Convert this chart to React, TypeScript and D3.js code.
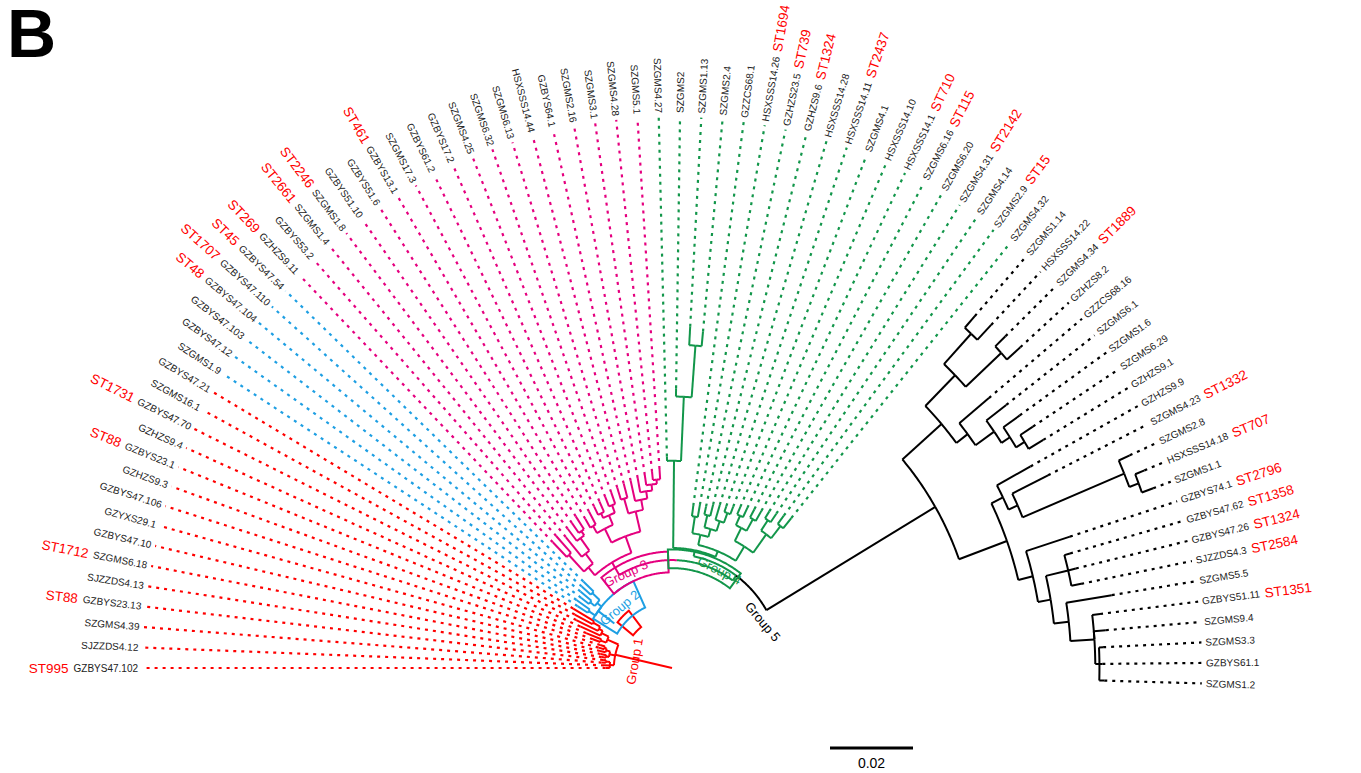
import React, { useMemo } from 'react';
import * as d3 from 'd3';

const WIDTH = 1361;
const HEIGHT = 773;
const FONT = '"Liberation Sans", Arial, Helvetica, sans-serif';

// ---------- data: leaves (clockwise order), groups, ST types ----------
const GROUP_NAMES = ['Group 1', 'Group 2', 'Group 3', 'Group 4', 'Group 5'];
const GROUP_COLORS = ['#FF0000', '#1E9FE3', '#E5007F', '#12964A', '#000000'];

const GROUP1_LEAVES = ['GZBYS47.102', 'SJZZDS4.12', 'SZGMS4.39', 'GZBYS23.13', 'SJZZDS4.13', 'SZGMS6.18', 'GZBYS47.10', 'GZYXS29.1', 'GZBYS47.106', 'GZHZS9.3', 'GZBYS23.1', 'GZHZS9.4', 'GZBYS47.70', 'SZGMS16.1', 'GZBYS47.21'];
const GROUP2_LEAVES = ['SZGMS1.9', 'GZBYS47.12', 'GZBYS47.103', 'GZBYS47.104', 'GZBYS47.110', 'GZBYS47.54'];
const GROUP3_LEAVES = ['GZHZS9.11', 'GZBYS53.2', 'SZGMS1.4', 'SZGMS1.8', 'GZBYS51.10', 'GZBYS51.6', 'GZBYS13.1', 'SZGMS17.3', 'GZBYS61.2', 'GZBYS17.2', 'SZGMS4.25', 'SZGMS6.32', 'SZGMS6.13', 'HSXSSS14.44', 'GZBYS64.1', 'SZGMS2.16', 'SZGMS3.1', 'SZGMS4.28', 'SZGMS5.1'];
const GROUP4_LEAVES = ['SZGMS4.27', 'SZGMS2', 'SZGMS1.13', 'SZGMS2.4', 'GZZCS68.1', 'HSXSSS14.26', 'GZHZS23.5', 'GZHZS9.6', 'HSXSSS14.28', 'HSXSSS14.11', 'SZGMS4.1', 'HSXSSS14.10', 'HSXSSS14.1', 'SZGMS6.16', 'SZGMS6.20', 'SZGMS4.31', 'SZGMS4.14', 'SZGMS2.9', 'SZGMS4.32'];
const GROUP5_LEAVES = ['SZGMS1.14', 'HSXSSS14.22', 'SZGMS4.34', 'GZHZS8.2', 'GZZCS68.16', 'SZGMS6.1', 'SZGMS1.6', 'SZGMS6.29', 'GZHZS9.1', 'GZHZS9.9', 'SZGMS4.23', 'SZGMS2.8', 'HSXSSS14.18', 'SZGMS1.1', 'GZBYS74.1', 'GZBYS47.62', 'GZBYS47.26', 'SJZZDS4.3', 'SZGMS5.5', 'GZBYS51.11', 'SZGMS9.4', 'SZGMS3.3', 'GZBYS61.1', 'SZGMS1.2'];
const GROUP_LEAVES = [GROUP1_LEAVES, GROUP2_LEAVES, GROUP3_LEAVES, GROUP4_LEAVES, GROUP5_LEAVES];

const ST_ISOLATES = ['GZBYS47.102', 'GZBYS23.13', 'SZGMS6.18', 'GZBYS23.1', 'GZBYS47.70', 'GZBYS47.104', 'GZBYS47.110', 'GZBYS47.54', 'GZHZS9.11', 'SZGMS1.4', 'SZGMS1.8', 'GZBYS13.1', 'HSXSSS14.26', 'GZHZS23.5', 'GZHZS9.6', 'HSXSSS14.11', 'HSXSSS14.1', 'SZGMS6.16', 'SZGMS4.31', 'SZGMS2.9', 'SZGMS4.34', 'SZGMS4.23', 'HSXSSS14.18', 'GZBYS74.1', 'GZBYS47.62', 'GZBYS47.26', 'SJZZDS4.3', 'GZBYS51.11'];
const ST_TYPES = ['ST995', 'ST88', 'ST1712', 'ST88', 'ST1731', 'ST48', 'ST1707', 'ST45', 'ST269', 'ST2661', 'ST2246', 'ST461', 'ST1694', 'ST739', 'ST1324', 'ST2437', 'ST710', 'ST115', 'ST2142', 'ST15', 'ST1889', 'ST1332', 'ST707', 'ST2796', 'ST1358', 'ST1324', 'ST2584', 'ST1351'];

// ---------- tree topology (Newick, branch lengths in 1e-3 substitutions/site) ----------
const NEWICK_G1 = '((GZBYS47.102:1.0,SJZZDS4.12:1.4,(SZGMS4.39:1.0,GZBYS23.13:0.7):1.0):1.0,((SJZZDS4.13:1.0,SZGMS6.18:1.4):0.7,(GZBYS47.10:1.4,(GZYXS29.1:1.4,GZBYS47.106:1.2):0.5):1.0):1.4,((GZHZS9.3:1.9,GZBYS23.1:3.9):1.4,(GZHZS9.4:5.3,(GZBYS47.70:5.8,(SZGMS16.1:4.8,GZBYS47.21:5.8):1.9):1.0):1.9):2.9)';
const NEWICK_G2 = '((SZGMS1.9:2.9,GZBYS47.12:3.9):1.9,((GZBYS47.103:2.4,GZBYS47.104:3.4):1.4,(GZBYS47.110:2.9,GZBYS47.54:3.4):2.4):1.4)';
const NEWICK_G3 = '(((GZHZS9.11:4.8,GZBYS53.2:5.3):5.3,(SZGMS1.4:6.0,(SZGMS1.8:3.6,(GZBYS51.10:2.9,GZBYS51.6:3.6):1.2):3.6):2.9):2.4,(((GZBYS13.1:2.4,SZGMS17.3:3.4):1.9,((GZBYS61.2:2.2,GZBYS17.2:2.7):1.2,(SZGMS4.25:2.4,SZGMS6.32:2.9):1.9):2.4):3.6,((SZGMS6.13:2.9,HSXSSS14.44:3.4):3.6,(GZBYS64.1:4.8,(SZGMS2.16:3.4,(SZGMS3.1:2.4,(SZGMS4.28:1.9,SZGMS5.1:2.4):1.0):1.4):1.7):2.4):4.8):4.1)';
const NEWICK_G4 = '((SZGMS4.27:1.0,(SZGMS2:1.9,(SZGMS1.13:4.3,SZGMS2.4:3.4):12.0):14.9):20.2,(((GZZCS68.1:2.4,HSXSSS14.26:2.9):3.9,((GZHZS23.5:1.9,GZHZS9.6:2.7):2.9,(HSXSSS14.28:3.6,(HSXSSS14.11:1.4,SZGMS4.1:1.9):2.4):2.4):1.9):2.4,(((HSXSSS14.10:1.9,HSXSSS14.1:2.4):2.4,(SZGMS6.16:2.2,SZGMS6.20:2.7):3.1):3.4,((SZGMS4.31:1.9,SZGMS4.14:2.4):2.9,(SZGMS2.9:2.4,SZGMS4.32:3.1):3.6):5.3):3.9):1.4)';
const NEWICK_G5 = '((((SZGMS1.14:3.6,HSXSSS14.22:4.8):9.6,(SZGMS4.34:3.4,GZHZS8.2:4.3):11.6):10.1,(GZZCS68.16:9.2,(SZGMS6.1:6.0,(SZGMS1.6:4.8,(SZGMS6.29:3.6,GZHZS9.1:4.1):2.4):2.4):5.5):3.4):12.5,((GZHZS9.9:9.2,(SZGMS4.23:9.6,(SZGMS2.8:2.9,(HSXSSS14.18:2.4,SZGMS1.1:2.9):2.4):26.5):2.4):3.1,(GZBYS74.1:11.1,((GZBYS47.62:1.4,GZBYS47.26:1.9,SJZZDS4.3:2.4):5.5,(SZGMS5.5:11.1,(GZBYS51.11:1.9,SZGMS9.4:2.9,(SZGMS3.3:1.0,GZBYS61.1:0.7,SZGMS1.2:1.2):1.0):5.8):3.6):3.1):3.6):12.3)';
// backbone branch lengths (1e-3 subs/site)
const BACKBONE = { g1: 14.0, x: 17.3, g2: 4.8, y: 7.7, g3: 3.4, z: 1.4, g4: 1.4, g5: 47.2 };
const BRANCH_UNIT = 0.001;
const SCALE_BAR_VALUE = 0.02;

// ---------- layout constants ----------
const CX = 672;
const CY = 668;
const K = 1.04; // vertical stretch of the fan
const R_TIP = 530;
const ANGLE_START = 180;
const ANGLE_END = -1.67;
const SCALE_BAR_PX = 83;
const LABEL_GAP = 4;
const ST_GAP = 5;
const ID_FONT = 10;
const ST_FONT = 13.5;

const GROUP_BOXES = [
  { group: 0, rIn: 50, rOut: 70, a0: 127, a1: 140 },
  { group: 1, rIn: 64, rOut: 92, a0: 114, a1: 148 },
  { group: 2, rIn: 92, rOut: 112, a0: 92, a1: 128 },
  { group: 3, rIn: 96, rOut: 114, a0: 54, a1: 92 },
];
const GROUP_TEXTS = [
  { group: 0, r: 38, a: 170, rot: -80 },
  { group: 1, r: 78, a: 131, rot: -40 },
  { group: 2, r: 102, a: 116, rot: -25 },
  { group: 3, r: 105, a: 64, rot: 27 },
  { group: 4, r: 101, a: 27, rot: 50 },
];

type NNode = { name: string; length: number; children: NNode[] };

function parseNewick(s: string): NNode {
  let i = 0;
  function node(): NNode {
    const n: NNode = { name: '', length: 0, children: [] };
    if (s[i] === '(') {
      i++;
      n.children.push(node());
      while (s[i] === ',') {
        i++;
        n.children.push(node());
      }
      i++; // ')'
    }
    let name = '';
    while (i < s.length && !',():;'.includes(s[i])) name += s[i++];
    n.name = name.trim();
    if (s[i] === ':') {
      i++;
      let num = '';
      while (i < s.length && !',();'.includes(s[i])) num += s[i++];
      n.length = parseFloat(num);
    }
    return n;
  }
  return node();
}

let _ctx: CanvasRenderingContext2D | null = null;
function textWidth(t: string, size: number) {
  if (!_ctx) _ctx = document.createElement('canvas').getContext('2d');
  if (!_ctx) return t.length * size * 0.55;
  _ctx.font = `${size}px ${FONT}`;
  return _ctx.measureText(t).width;
}

const rad = (a: number) => (a * Math.PI) / 180;
// polar point: straight rays from the centre, radius stretched into a slight vertical ellipse
function pt(r: number, a: number): [number, number] {
  const t = rad(a);
  const c = Math.cos(t);
  const s = Math.sin(t);
  const f = K / Math.sqrt(K * K * c * c + s * s);
  return [CX + r * f * c, CY - r * f * s];
}
function arcPoints(r: number, a0: number, a1: number): [number, number][] {
  const n = Math.max(2, Math.ceil(Math.abs(a1 - a0) / 0.5) + 1);
  return d3.range(n).map((k) => pt(r, a0 + ((a1 - a0) * k) / (n - 1)));
}

function buildModel() {
  const nwk = `(${NEWICK_G1}:${BACKBONE.g1},(${NEWICK_G2}:${BACKBONE.g2},(${NEWICK_G3}:${BACKBONE.g3},(${NEWICK_G4}:${BACKBONE.g4},${NEWICK_G5}:${BACKBONE.g5}):${BACKBONE.z}):${BACKBONE.y}):${BACKBONE.x});`;
  const tree = parseNewick(nwk);
  const root: any = d3.hierarchy(tree, (d) => d.children);
  const rScale = d3.scaleLinear().domain([0, SCALE_BAR_VALUE]).range([0, SCALE_BAR_PX]);

  const groupOf = new Map<string, number>();
  GROUP_LEAVES.forEach((arr, g) => arr.forEach((n) => groupOf.set(n, g)));
  const stOf = new Map<string, string>();
  ST_ISOLATES.forEach((n, i) => stOf.set(n, ST_TYPES[i]));

  root.eachBefore((n: any) => {
    n.cum = n.parent ? n.parent.cum + n.data.length * BRANCH_UNIT : 0;
    n.r = rScale(n.cum);
  });
  const leaves = root.leaves();
  const aScale = d3.scaleLinear().domain([0, leaves.length - 1]).range([ANGLE_START, ANGLE_END]);
  leaves.forEach((l: any, i: number) => {
    l.theta = aScale(i);
  });
  root.eachAfter((n: any) => {
    if (n.children) n.theta = (n.children[0].theta + n.children[n.children.length - 1].theta) / 2;
    const lv = n.children ? n.leaves() : [n];
    n.color = GROUP_COLORS[groupOf.get(lv[0].data.name) ?? 4];
    n.nGroups = new Set(lv.map((l: any) => groupOf.get(l.data.name))).size;
  });

  const branches: { d: string; color: string }[] = [];
  const line = d3.line();
  root.descendants().forEach((n: any) => {
    // deep backbone stems (spanning 3+ groups) are hidden behind the group brackets in the figure
    if (n.parent && n.nGroups < 3) {
      branches.push({ d: line([pt(n.parent.r, n.theta), pt(n.r, n.theta)]) as string, color: n.color });
    }
    if (n.children && n.r > 0 && n.nGroups < 4) {
      n.children.forEach((c: any) => {
        branches.push({ d: line(arcPoints(n.r, n.theta, c.theta)) as string, color: c.color });
      });
    }
  });

  const tips = leaves.map((l: any) => {
    const name = l.data.name;
    const t = rad(l.theta);
    const dir: [number, number] = [Math.cos(t), -Math.sin(t)];
    const end = pt(R_TIP, l.theta);
    const right = Math.cos(t) >= 0;
    const rotDeg = right ? -l.theta : 180 - l.theta;
    const p0: [number, number] = [end[0] + dir[0] * LABEL_GAP, end[1] + dir[1] * LABEL_GAP];
    const st = stOf.get(name);
    const dSt = LABEL_GAP + textWidth(name, ID_FONT) + ST_GAP;
    const pSt: [number, number] = [end[0] + dir[0] * dSt, end[1] + dir[1] * dSt];
    return {
      name,
      st,
      color: l.color,
      dash: line([pt(l.r, l.theta), end]) as string,
      p0,
      pSt,
      rotDeg,
      anchor: right ? 'start' : 'end',
    };
  });

  const boxes = GROUP_BOXES.map((b) => {
    const pts = [...arcPoints(b.rOut, b.a0, b.a1), ...arcPoints(b.rIn, b.a1, b.a0)];
    return { d: (line(pts) as string) + 'Z', color: GROUP_COLORS[b.group] };
  });
  const gtexts = GROUP_TEXTS.map((g) => ({ p: pt(g.r, g.a), rot: g.rot, text: GROUP_NAMES[g.group], color: GROUP_COLORS[g.group] }));

  return { branches, tips, boxes, gtexts, barLen: rScale(SCALE_BAR_VALUE) };
}

export default function App() {
  const m = useMemo(() => buildModel(), []);
  const barX = 830;
  const barY = 748;
  return (
    <svg
      width={WIDTH}
      height={HEIGHT}
      style={{ position: 'absolute', left: 0, top: 0, background: '#fff' }}
      fontFamily={FONT}
    >
      <rect width={WIDTH} height={HEIGHT} fill="#fff" />
      <text x={7} y={57} fontSize={68} fontWeight="bold" fill="#000">B</text>

      <g fill="none" strokeWidth={2.2} strokeDasharray="3 5">
        {m.tips.map((t: any) => (
          <path key={'d' + t.name} d={t.dash} stroke={t.color} />
        ))}
      </g>

      <g fill="none" strokeWidth={2} strokeLinecap="butt">
        {m.branches.map((b, i) => (
          <path key={'b' + i} d={b.d} stroke={b.color} />
        ))}
      </g>

      <g fill="none" strokeWidth={2}>
        {m.boxes.map((b, i) => (
          <path key={'box' + i} d={b.d} stroke={b.color} />
        ))}
      </g>

      {m.gtexts.map((g, i) => (
        <text
          key={'g' + i}
          x={g.p[0]}
          y={g.p[1]}
          transform={`rotate(${g.rot},${g.p[0]},${g.p[1]})`}
          textAnchor="middle"
          dominantBaseline="central"
          fontSize={13}
          fill={g.color}
        >
          {g.text}
        </text>
      ))}

      <g>
        {m.tips.map((t: any) => (
          <g key={'l' + t.name}>
            <text
              x={t.p0[0]}
              y={t.p0[1]}
              transform={`rotate(${t.rotDeg},${t.p0[0]},${t.p0[1]})`}
              textAnchor={t.anchor}
              dominantBaseline="central"
              fontSize={ID_FONT}
              fill="#222"
            >
              {t.name}
            </text>
            {t.st && (
              <text
                x={t.pSt[0]}
                y={t.pSt[1]}
                transform={`rotate(${t.rotDeg},${t.pSt[0]},${t.pSt[1]})`}
                textAnchor={t.anchor}
                dominantBaseline="central"
                fontSize={ST_FONT}
                fill="#FF0000"
              >
                {t.st}
              </text>
            )}
          </g>
        ))}
      </g>

      <line x1={barX} x2={barX + m.barLen} y1={barY} y2={barY} stroke="#000" strokeWidth={3} />
      <text x={barX + m.barLen / 2} y={768} textAnchor="middle" fontSize={14} fill="#000">
        {String(SCALE_BAR_VALUE)}
      </text>
    </svg>
  );
}
